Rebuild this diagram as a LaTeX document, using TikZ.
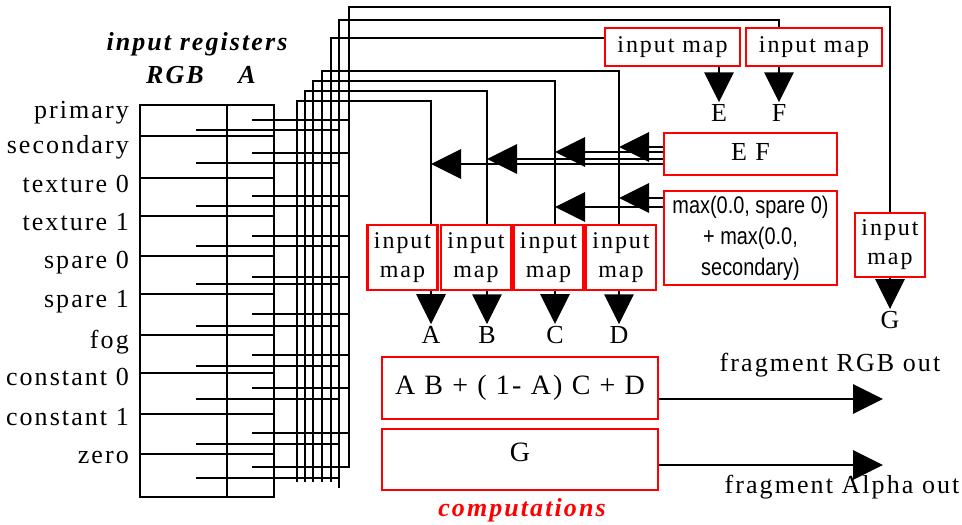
\documentclass[tikz,border=0pt]{standalone}
\usepackage{fontspec}
\setmainfont{Liberation Serif}[LetterSpace=8]
\newfontfamily\condsans{Liberation Sans}[FakeStretch=0.83]
\usetikzlibrary{arrows.meta}
\tikzset{
 wr/.style={line width=2.9pt},
 ar/.style={line width=2.9pt,-{Triangle[length=30pt,width=29pt]}},
 rbox/.style={draw=red,line width=2.9pt,inner sep=0pt,align=center},
 lb/.style={inner sep=2pt,font=\fontsize{26}{30}\selectfont},
 hd/.style={inner sep=2pt,font=\fontsize{26}{30}\selectfont\bfseries\itshape},
 mp/.style={rbox,font=\fontsize{24}{29}\selectfont}}

\begin{document}
\begin{tikzpicture}[x=1pt,y=-1pt]
 \useasboundingbox (0,0) rectangle (962,525);
 % register file
 \node[hd] (inreg) at (197,44) {input registers};
 \node[hd] (rgbh) at (175,75) {RGB};
 \node[hd] (ah) at (247,75) {A};
 \draw[wr] (140,105) rectangle (274,497) (227,105) -- (227,497);
 \foreach \y in {136,178,216,256,294,335,373,414,454}
  \draw[wr] (140,\y) -- (274,\y);
 \foreach \yb/\t [count=\i] in {118/primary,153/secondary,192/texture 0,
   230/texture 1,268/spare 0,307/spare 1,348/fog,385/constant 0,
   425/constant 1,463/zero}
  \node[lb,anchor=base east] (reg\i) at (131,\yb) {\t};
 \foreach \ya/\yc in {120/130,153/163,196/206,236/246,277/284,314/326,
   355/366,388/399,433/444,467/478}{
  \draw[wr] (252,\ya) -- (349,\ya);
  \draw[wr] (196,\yc) -- (339,\yc);}
 \foreach \n/\x/\y in {a/297/482,b/305/482,c/313/482,d/322/482,e/331/482,
   f/339/488,g/349/468}
  \coordinate (bus\n) at (\x,\y);
 \foreach \n/\x in {a/431,b/487,c/555,d/619,e/719,f/779}
  \coordinate (x\n) at (\x,0);

 % input maps
 \node[mp,minimum width=135pt,minimum height=38pt] (mapE) at (672.5,47) {input map};
 \node[mp,minimum width=136pt,minimum height=38pt] (mapF) at (814,47) {input map};
 \foreach \n/\x in {A/402.5,B/476,C/548.5,D/621}
  \node[mp,minimum width=70pt,minimum height=65pt] (map\n) at (\x,257.5) {input\\map};
 \node[mp,minimum width=70pt,minimum height=64pt] (mapG) at (890,245) {input\\map};

 % bus wires
 \draw[wr] (busa) -- (busa |- 0,101) -| (mapA.north -| xa);
 \draw[wr] (busb) -- (busb |- 0,91) -| (mapB.north -| xb);
 \draw[wr] (busc) -- (busc |- 0,81) -| (mapC.north -| xc);
 \draw[wr] (busd) -- (busd |- 0,71) -| (mapD.north -| xd);
 \draw[wr] (buse) |- ([yshift=9pt]mapE.west);
 \draw[wr] (busf) -- (busf |- 0,20) -| (mapF.north -| xf);
 \draw[wr] (busg) -- (busg |- 0,7) -| (mapG.north);

 % variables
 \foreach \n/\c/\x/\y in {A/a/431/335,B/b/487/335,C/c/555/335,D/d/619/335}{
  \node[lb] (l\n) at (\x,\y) {\n};
  \draw[ar] (map\n.south -| x\c) -- (l\n.north);}
 \node[lb] (lE) at (719,113) {E};
 \node[lb] (lF) at (779,113) {F};
 \node[lb] (lG) at (890,320) {G};
 \draw[ar] (mapE.south -| xe) -- (lE.north);
 \draw[ar] (mapF.south -| xf) -- (lF.north);
 \draw[ar] (mapG.south) -- (lG.north);

 % products fed back
 \node[rbox,font=\fontsize{26}{30}\selectfont,minimum width=173pt,minimum height=42pt]
  (ef) at (750.5,154) {\raisebox{4pt}{E\ F}};
 \node[rbox,font=\condsans\fontsize{24}{31}\selectfont,minimum width=173pt,
  minimum height=94pt] (mx) at (750.5,238) {max(0.0, spare 0)\\+ max(0.0,\\secondary)};
 \foreach \s/\t in {7/xd,2/xc,-5/xb,-10/xa}
  \draw[ar] ([yshift=\s pt]ef.west) -- ([yshift=\s pt]ef.west -| \t);
 \foreach \s/\t in {40/xd,31/xc}
  \draw[ar] ([yshift=\s pt]mx.west) -- ([yshift=\s pt]mx.west -| \t);

 % computations
 \node[rbox,font=\fontsize{28}{32}\selectfont,minimum width=276pt,minimum height=62pt]
  (rgbc) at (520,388) {A\ B + ( 1- A) C + D};
 \node[rbox,font=\fontsize{28}{32}\selectfont,minimum width=276pt,minimum height=61pt]
  (alc) at (520,459.5) {\raisebox{15pt}{G}};
 \node[hd,text=red] (comp) at (522,510) {computations};
 \coordinate (outc) at (883,399);
 \coordinate (outa) at (883,465);
 \draw[ar] ([yshift=-11pt]rgbc.east) -- (outc);
 \draw[ar] ([yshift=-5.5pt]alc.east) -- (outa);
 \node[lb] (rgbout) at (830,365) {fragment RGB out};
 \node[lb] (alout) at (842,487) {fragment Alpha out};
\end{tikzpicture}
\end{document}
